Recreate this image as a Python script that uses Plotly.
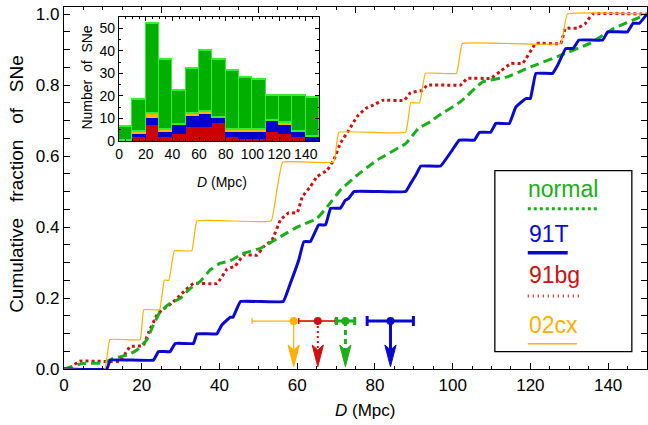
import plotly.graph_objects as go

# ---------------- Cumulative distributions ----------------
D_normal = [0, 1.5, 4.5, 10.1, 12.7, 16.2, 18.7, 21.3, 23.0, 24.7, 27.3, 29.9, 32.5, 35.0,
            37.6, 40.2, 42.8, 46.2, 50.5, 52.5, 55.7, 60.0, 65.1, 67.7, 71.1, 75.4, 80.6,
            88.0, 91.2, 94.3, 96.0, 102.0, 107.7, 114.0, 120.0, 127.8, 135.6, 141.5, 150.0]
F_normal = [0, 0.005, 0.015, 0.017, 0.030, 0.039, 0.053, 0.082, 0.124, 0.161, 0.185, 0.199,
            0.227, 0.246, 0.279, 0.298, 0.305, 0.326, 0.340, 0.352, 0.373, 0.400, 0.424,
            0.457, 0.504, 0.546, 0.589, 0.636, 0.678, 0.697, 0.711, 0.753, 0.809, 0.823,
            0.851, 0.884, 0.919, 0.960, 1.0]

D_91T = [0, 11.0, 11.9, 23.0, 24.3, 27.3, 28.6, 33.3, 34.2, 39.3, 40.6, 42.8, 43.5, 45.4,
         56.4, 58.2, 60.4, 61.7, 63.4, 65.5, 67.3, 68.6, 71.1, 72.4, 73.2, 74.6, 87.9, 89.2,
         90.5, 91.8, 96.9, 99.9, 101.7, 105.6, 106.9, 109.8, 111.1, 114.6, 116.2, 118.8,
         120.0, 121.4, 125.7, 127.0, 129.1, 131.0, 132.5, 138.6, 139.9, 145.0, 146.4, 148.0,
         150.0]
F_91T = [0, 0, 0.025, 0.025, 0.049, 0.049, 0.072, 0.072, 0.099, 0.099, 0.124, 0.146, 0.146,
         0.190, 0.190, 0.240, 0.307, 0.359, 0.359, 0.406, 0.406, 0.453, 0.453, 0.476, 0.480,
         0.500, 0.500, 0.523, 0.546, 0.572, 0.572, 0.617, 0.645, 0.645, 0.667, 0.667, 0.692,
         0.692, 0.737, 0.762, 0.762, 0.833, 0.833, 0.856, 0.903, 0.903, 0.927, 0.927, 0.950,
         0.950, 0.974, 0.974, 1.0]

D_91bg = [0, 1.0, 4.0, 14.4, 17.0, 20.4, 21.7, 23.9, 25.2, 27.7, 29.5, 31.2, 33.3, 39.4, 41.9,
          44.0, 46.2, 49.7, 51.4, 53.5, 55.7, 57.8, 60.0, 61.3, 63.4, 65.1, 67.7, 69.4, 71.1,
          73.3, 75.4, 77.6, 79.7, 81.9, 87.5, 89.2, 92.2, 93.5, 102.0, 103.8, 109.8, 112.4,
          115.0, 118.0, 121.4, 127.8, 129.0, 132.0, 134.0, 136.0, 150.0]
F_91bg = [0, 0, 0.022, 0.022, 0.063, 0.066, 0.101, 0.152, 0.166, 0.185, 0.204, 0.222, 0.241,
          0.241, 0.281, 0.290, 0.321, 0.321, 0.345, 0.363, 0.420, 0.440, 0.440, 0.485, 0.514,
          0.542, 0.560, 0.589, 0.636, 0.673, 0.711, 0.734, 0.744, 0.757, 0.757, 0.779, 0.785,
          0.800, 0.800, 0.819, 0.819, 0.840, 0.861, 0.861, 0.917, 0.917, 0.960, 0.960, 0.972,
          1.0, 1.0]

D_02cx = [0, 10.5, 11.8, 19.6, 20.5, 24.6, 25.8, 27.0, 28.4, 32.9, 34.2, 53.3, 54.7,
          56.3, 69.4, 70.7, 87.9, 89.2, 91.5, 93.0, 101.0, 102.5, 127.8, 129.5, 150.0]
F_02cx = [0, 0, 0.083, 0.083, 0.167, 0.167, 0.25, 0.25, 0.333, 0.333, 0.417, 0.417, 0.5,
          0.583, 0.583, 0.667, 0.667, 0.75, 0.75, 0.833, 0.833, 0.917, 0.917, 1.0, 1.0]

# ---------------- Medians with ranges ----------------
median_D = {"normal": 72.4, "91T": 84.0, "91bg": 65.3, "02cx": 59.1}
median_lo = {"normal": 70.1, "91T": 78.0, "91bg": 60.4, "02cx": 48.4}
median_hi = {"normal": 74.8, "91T": 89.9, "91bg": 69.8, "02cx": 69.8}

# ---------------- Inset histogram (counts per 10 Mpc bin) ----------------
bin_centers = [5, 15, 25, 35, 45, 55, 65, 75, 85, 95, 105, 115, 125, 135, 145]
n_91bg = [0, 2, 7, 2, 3, 6, 6, 8, 2, 1, 1, 4, 3, 2, 0]
n_91T = [0, 1, 3, 2, 4, 5, 6, 2, 2, 3, 3, 5, 4, 2, 2]
n_02cx = [0, 1, 2, 1, 0, 1, 1, 0, 1, 1, 1, 0, 1, 0, 0]
n_normal = [6, 14, 40, 31, 15, 20, 27, 26, 26, 23, 22, 11, 12, 16, 17]

GREEN = "#1aae1a"
BLUE = "#0a0acc"
RED = "#cc1111"
ORANGE = "#ffb000"
FONT = "Liberation Sans, Arial, sans-serif"
SMOOTH = 0.25

fig = go.Figure()

# inset bars (stacked)
for vals, fill, line in [(n_91bg, "#cc0000", "#cc0000"), (n_91T, "#0000cc", "#0000cc"),
                         (n_02cx, "#ffb400", "#ffb400"), (n_normal, "#00b000", "#33ee33")]:
    fig.add_trace(go.Bar(x=bin_centers, y=vals, width=10, xaxis="x2", yaxis="y2",
                         marker=dict(color=fill, line=dict(color=line, width=1.5)),
                         showlegend=False, hoverinfo="skip"))

# main curves
fig.add_trace(go.Scatter(x=D_02cx, y=F_02cx, mode="lines", xaxis="x3", yaxis="y",
                         line=dict(color=ORANGE, width=1.2, shape="spline", smoothing=SMOOTH),
                         showlegend=False))
fig.add_trace(go.Scatter(x=D_91bg, y=F_91bg, mode="lines",
                         line=dict(color=RED, width=3, dash="3px,3px", shape="spline",
                                   smoothing=SMOOTH), showlegend=False))
fig.add_trace(go.Scatter(x=D_normal, y=F_normal, mode="lines",
                         line=dict(color=GREEN, width=3, dash="9px,5px", shape="spline",
                                   smoothing=SMOOTH), showlegend=False))
fig.add_trace(go.Scatter(x=D_91T, y=F_91T, mode="lines",
                         line=dict(color=BLUE, width=3, shape="spline", smoothing=SMOOTH),
                         showlegend=False))

# median markers, error bars and arrows
Y_BAR = 0.135
Y_NOTCH = 0.0535
Y_BARB = 0.0676
Y_TIP = 0.0065
HALF_W = 1.45
styles = {
    "02cx": dict(color=ORANGE, width=1.2, dash="solid", thick=1.2, cap=3),
    "91bg": dict(color=RED, width=2, dash="2px,3px", thick=1.5, cap=3),
    "normal": dict(color=GREEN, width=3, dash="5px,4px", thick=3, cap=4),
    "91T": dict(color=BLUE, width=3, dash="solid", thick=3, cap=5),
}
for name in ["02cx", "91bg", "normal", "91T"]:
    st = styles[name]
    d = median_D[name]
    fig.add_trace(go.Scatter(x=[d, d], y=[Y_BAR, Y_NOTCH], mode="lines",
                             line=dict(color=st["color"], width=st["width"], dash=st["dash"]),
                             showlegend=False))
    fig.add_trace(go.Scatter(x=[d - HALF_W, d, d + HALF_W, d, d - HALF_W],
                             y=[Y_BARB, Y_TIP, Y_BARB, Y_NOTCH, Y_BARB],
                             mode="lines", fill="toself", fillcolor=st["color"],
                             line=dict(color=st["color"], width=1), showlegend=False))
    fig.add_trace(go.Scatter(x=[d], y=[Y_BAR], mode="markers",
                             marker=dict(color=st["color"], size=8),
                             error_x=dict(type="data", symmetric=False,
                                          array=[median_hi[name] - d],
                                          arrayminus=[d - median_lo[name]],
                                          color=st["color"], thickness=st["thick"],
                                          width=st["cap"]),
                             showlegend=False))

# ---------------- layout ----------------
axis_common = dict(showgrid=False, zeroline=False, showline=True, linecolor="black",
                   linewidth=1.3, ticks="inside", tickcolor="black")

fig.update_layout(
    width=648, height=425,
    margin=dict(l=64, r=1, t=7, b=56),
    paper_bgcolor="white", plot_bgcolor="white",
    barmode="stack", bargap=0,
    font=dict(family=FONT, color="black"),
    xaxis=dict(**axis_common, range=[0, 150], tick0=0, dtick=20, ticklen=6,
               mirror=True, tickfont=dict(size=17),
               minor=dict(dtick=5, ticklen=3, ticks="inside", tickcolor="black")),
    xaxis3=dict(range=[0, 150], overlaying="x", side="top", showgrid=False, zeroline=False,
                showline=False, ticks="inside", tick0=0, dtick=25, ticklen=6,
                tickcolor="black", showticklabels=False,
                minor=dict(dtick=5, ticklen=3, ticks="inside", tickcolor="black")),
    yaxis=dict(**axis_common, range=[0, 1.02], tick0=0, dtick=0.2, ticklen=6,
               mirror="allticks", tickformat=".1f", tickfont=dict(size=17),
               minor=dict(dtick=0.05, ticklen=3, ticks="inside", tickcolor="black")),
    xaxis2=dict(**axis_common, domain=[0.0944, 0.4376], anchor="y2", range=[0, 150],
                tick0=0, dtick=20, ticklen=4, mirror="allticks", tickfont=dict(size=14),
                minor=dict(dtick=5, ticklen=2, ticks="inside", tickcolor="black")),
    yaxis2=dict(**axis_common, domain=[0.6298, 0.9724], anchor="x2", range=[0, 55],
                tick0=0, dtick=10, ticklen=4, mirror="allticks", tickfont=dict(size=14),
                minor=dict(dtick=5, ticklen=2, ticks="inside", tickcolor="black")),
)

NB = "\u00a0"
annotations = [
    dict(text="Cumulative" + NB * 3 + "fraction" + NB * 3 + "of" + NB * 3 + "SNe",
         x=-0.082, y=0.512, xref="paper", yref="paper", textangle=-90,
         showarrow=False, font=dict(size=19), xanchor="center", yanchor="middle"),
    dict(text="<i>D</i> (Mpc)", x=0.5166, y=-0.116, xref="paper", yref="paper",
         showarrow=False, font=dict(size=17), xanchor="center", yanchor="middle"),
    dict(text="Number" + NB * 2 + "of" + NB * 2 + "SNe", x=0.0395, y=0.805, xref="paper",
         yref="paper", textangle=-90, showarrow=False, font=dict(size=14),
         xanchor="center", yanchor="middle"),
    dict(text="<i>D</i> (Mpc)", x=0.2706, y=0.5166, xref="paper", yref="paper",
         showarrow=False, font=dict(size=14), xanchor="center", yanchor="middle"),
]

# manual legend
legend_items = [
    ("normal", GREEN, 0.4986, 0.443, 0.9175, dict(color=GREEN, width=3, dash="dot"), "center"),
    ("91T", BLUE, 0.372, 0.321, 0.864, dict(color=BLUE, width=3.5), "left"),
    ("91bg", RED, 0.259, 0.202, 0.883, dict(color=RED, width=3, dash="1px,4px"), "left"),
    ("02cx", ORANGE, 0.121, 0.0696, 0.8797, dict(color=ORANGE, width=1.5), "left"),
]
shapes = [dict(type="rect", xref="paper", yref="paper", x0=0.739, x1=0.974, y0=0.048,
               y1=0.548, line=dict(color="black", width=1.3), fillcolor="white", layer="above")]
for label, col, ty, ly, lx1, lstyle, anchor in legend_items:
    annotations.append(dict(text=label, x=(0.7955 + 0.9175) / 2 if anchor == "center" else 0.7935,
                            y=ty, xref="paper", yref="paper", showarrow=False,
                            xanchor=anchor, yanchor="middle",
                            font=dict(size=23, color=col)))
    shapes.append(dict(type="line", xref="paper", yref="paper", x0=0.7955, x1=lx1,
                       y0=ly, y1=ly, line=lstyle, layer="above"))

fig.update_layout(annotations=annotations, shapes=shapes)

fig.write_html("out.html")
